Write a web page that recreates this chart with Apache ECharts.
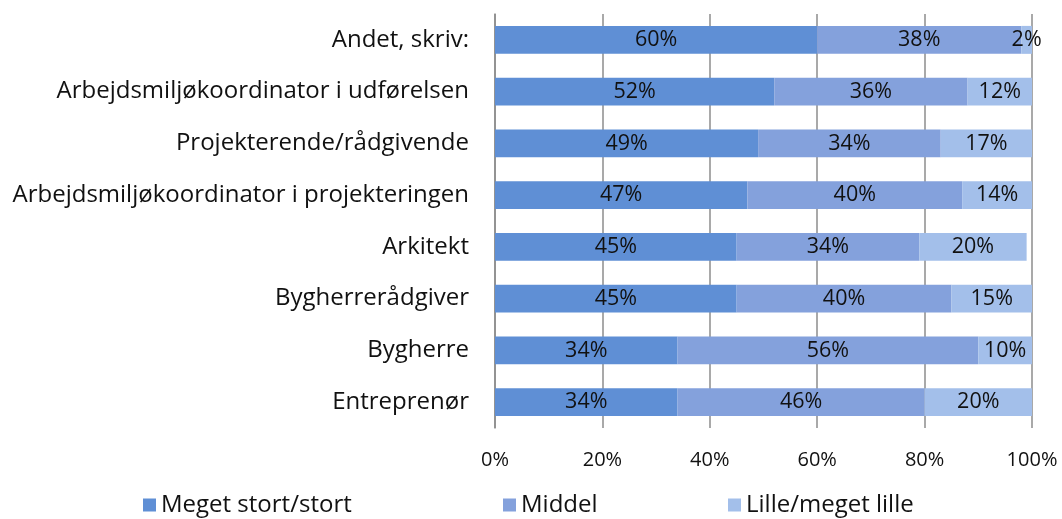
<!DOCTYPE html>
<html>
<head>
<meta charset="utf-8">
<script src="https://cdn.jsdelivr.net/npm/echarts@6/dist/echarts.min.js"></script>
<style>
  html, body { margin: 0; padding: 0; background: #fff; }
  #chart { width: 1062px; height: 519px; }
</style>
</head>
<body>
<div id="chart"></div>
<script>
// categories, bottom to top (category axis draws first item at the bottom)
const categories = [
  'Entreprenør',
  'Bygherre',
  'Bygherrerådgiver',
  'Arkitekt',
  'Arbejdsmiljøkoordinator i projekteringen',
  'Projekterende/rådgivende',
  'Arbejdsmiljøkoordinator i udførelsen',
  'Andet, skriv:'
]
const stort = [34, 34, 45, 45, 47, 49, 52, 60]
const middel = [46, 56, 40, 34, 40, 34, 36, 38]
const lille = [20, 10, 15, 20, 14, 17, 12, 2]
const xTicks = [0, 20, 40, 60, 80, 100]
const seriesNames = ['Meget stort/stort', 'Middel', 'Lille/meget lille']

const font = 'Open Sans'
const colors = ['#5f8fd5', '#84a1dc', '#a3bfea']

let myChart = echarts.init(document.getElementById('chart'))

const makeSeries = (name, data, color) => ({
  name: name,
  type: 'bar',
  stack: 'total',
  barWidth: '54%',
  data: data,
  itemStyle: { color: color },
  label: {
    show: true,
    position: 'inside',
    formatter: '{c}%',
    color: '#111',
    fontFamily: font,
    fontSize: 21.5
  }
})

// one legend per item so each sits where the reference puts it
const legendLefts = [138, 498, 723]
const legends = seriesNames.map((n, i) => ({
  bottom: -3,
  left: legendLefts[i],
  itemWidth: 13,
  itemHeight: 13,
  itemGap: 8,
  icon: 'rect',
  textStyle: { color: '#111', fontFamily: font, fontSize: 24 },
  data: [n]
}))

let option = {
  animation: false,
  textStyle: { fontFamily: font },
  grid: {
    left: 495,
    right: 30,
    top: 14,
    height: 414
  },
  xAxis: {
    type: 'value',
    min: 0,
    max: 100,
    interval: 20,
    axisLine: { show: false },
    axisTick: { show: false },
    splitLine: { lineStyle: { color: '#8c8c8c', width: 1.5 } },
    axisLabel: {
      formatter: v => xTicks.includes(v) ? v + '%' : '',
      color: '#111',
      fontFamily: font,
      fontSize: 20,
      margin: 22
    }
  },
  yAxis: {
    type: 'category',
    data: categories,
    axisLine: { show: true, lineStyle: { color: '#8c8c8c', width: 1.5 } },
    axisTick: { show: false },
    axisLabel: {
      color: '#111',
      fontFamily: font,
      fontSize: 24,
      margin: 26
    }
  },
  legend: legends,
  series: [
    makeSeries(seriesNames[0], stort, colors[0]),
    makeSeries(seriesNames[1], middel, colors[1]),
    makeSeries(seriesNames[2], lille, colors[2])
  ]
}
myChart.setOption(option)
</script>
</body>
</html>
